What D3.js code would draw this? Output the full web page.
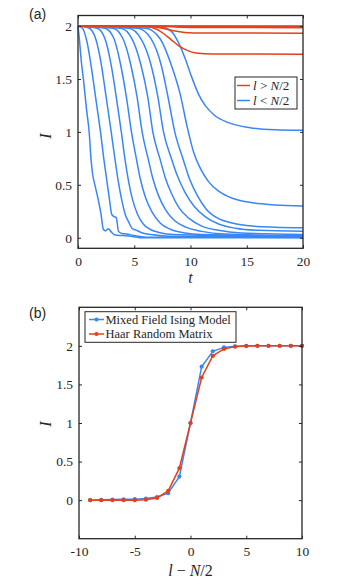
<!DOCTYPE html>
<html lang="en">
<head>
<meta charset="UTF-8">
<title>Mutual information</title>
<script src="https://d3js.org/d3.v7.min.js"></script>
<style>
  body { margin: 0; background: #fff; }
  svg text { fill: #262626; }
</style>
</head>
<body>
<div id="chart"></div>
<script>
// ---- panel (a): I(t) for each cut ----
const tTicks = [0, 5, 10, 15, 20];
const iTicks = [0, 0.5, 1, 1.5, 2];

// l < N/2 (blue)
const blue0 = [[0,2],[0.1,1.9],[0.3,1.66],[0.5,1.48],[0.75,1.22],[1.0,0.99],[1.16,0.74],[1.3,0.6],[1.5,0.5],[1.8,0.36],[2.05,0.22],[2.25,0.08],[2.45,0.065],[2.7,0.085],[2.95,0.055],[3.3,0.025],[4.0,0.02],[5.0,0.01],[5.5,0.0],[20,0.0]];
const blue1 = [[0,2],[0.4,1.98],[0.8,1.85],[1.2,1.6],[1.6,1.3],[2.0,1.0],[2.3,0.74],[2.55,0.55],[2.8,0.36],[3.0,0.22],[3.2,0.2],[3.4,0.19],[3.6,0.06],[3.9,0.04],[4.3,0.035],[5,0.02],[6,0.005],[20,0.003]];
const blue2 = [[0,2],[1.0,1.98],[1.6,1.87],[2.1,1.62],[2.5,1.33],[2.95,1.0],[3.29,0.74],[3.6,0.52],[3.9,0.35],[4.2,0.22],[4.5,0.15],[4.8,0.09],[5.2,0.07],[5.6,0.05],[6.5,0.03],[8,0.015],[20,0.005]];
const blue3 = [[0,2],[1.7,1.98],[2.4,1.88],[2.95,1.63],[3.4,1.33],[3.85,1.0],[4.18,0.74],[4.5,0.53],[4.85,0.36],[5.3,0.22],[5.8,0.13],[6.4,0.08],[7.2,0.05],[8.5,0.03],[20,0.01]];
const blue4 = [[0,2],[2.4,1.98],[3.2,1.88],[3.8,1.63],[4.3,1.33],[4.75,1.0],[5.2,0.74],[5.55,0.55],[6.0,0.38],[6.6,0.24],[7.3,0.14],[8.2,0.08],[9.5,0.045],[11,0.03],[20,0.015]];
const blue5 = [[0,2],[3.1,1.98],[4.0,1.88],[4.7,1.63],[5.25,1.33],[5.7,1.0],[6.25,0.74],[6.65,0.56],[7.15,0.4],[7.8,0.26],[8.6,0.16],[9.6,0.1],[11,0.06],[13,0.035],[20,0.02]];
const blue6 = [[0,2],[3.8,1.98],[4.8,1.88],[5.6,1.63],[6.2,1.33],[6.65,1.0],[7.3,0.74],[7.75,0.57],[8.3,0.42],[9.0,0.28],[9.9,0.18],[11,0.11],[12.5,0.07],[14.5,0.045],[20,0.03]];
const blue7 = [[0,2],[4.5,1.98],[5.6,1.88],[6.5,1.63],[7.1,1.33],[7.6,1.0],[8.33,0.74],[8.85,0.58],[9.5,0.43],[10.3,0.3],[11.3,0.2],[12.5,0.13],[14,0.09],[16,0.07],[20,0.06]];
const blue8 = [[0,2],[5.3,1.98],[6.5,1.88],[7.4,1.63],[8.0,1.33],[8.6,1.0],[9.35,0.74],[9.9,0.56],[10.6,0.4],[11.4,0.27],[12.5,0.18],[13.7,0.14],[15.5,0.11],[17.5,0.1],[20,0.095]];
const blue9 = [[0,2],[6.0,1.98],[7.3,1.88],[8.3,1.63],[9.1,1.35],[9.7,1.05],[10.3,0.8],[10.9,0.65],[11.6,0.53],[12.5,0.44],[13.8,0.37],[15.5,0.33],[17.5,0.31],[20,0.30]];
const blue10 = [[0,2],[7.5,1.99],[8.3,1.95],[8.9,1.85],[9.5,1.7],[10.1,1.52],[10.7,1.36],[11.3,1.25],[12.1,1.16],[13.3,1.09],[15.3,1.04],[17.5,1.02],[20,1.015]];

// l > N/2 (red)
const red0 = [[0,2],[6.0,1.995],[7.0,1.97],[7.6,1.93],[8.3,1.87],[9.0,1.81],[9.7,1.77],[10.5,1.745],[12,1.736],[20,1.734]];
const red1 = [[0,2],[6.5,1.995],[7.5,1.98],[8.5,1.955],[9.5,1.94],[11,1.934],[20,1.933]];
const red2 = [[0,2],[7.5,1.998],[9,1.99],[11,1.986],[20,1.985]];
const red3 = [[0,2],[9,1.998],[20,1.995]];
const red4 = [[0,2],[20,2]];

const blueCurves = [blue0, blue1, blue2, blue3, blue4, blue5, blue6, blue7, blue8, blue9, blue10];
const redCurves = [red4, red3, red2, red1, red0];

// ---- panel (b): saturated I versus l - N/2 ----
const lShift = [-9,-8,-7,-6,-5,-4,-3,-2,-1,0,1,2,3,4,5,6,7,8,9,10];
const mfim   = [0.0,0.005,0.008,0.01,0.013,0.02,0.04,0.09,0.305,1.0,1.73,1.93,1.98,1.995,2.0,2.0,2.0,2.0,2.0,2.0];
const haar   = [0.0,0.0,0.0,0.0,0.0,0.005,0.028,0.12,0.415,1.0,1.59,1.87,1.96,1.99,1.997,2.0,2.0,2.0,2.0,2.0];
const lTicks = [-10, -5, 0, 5, 10];
const bTicks = [0, 0.5, 1, 1.5, 2];

const BLUE = "#3787f7", RED = "#e5401c", AX = "#262626";
const serif = "'Liberation Serif', 'DejaVu Serif', serif";

const svg = d3.select("#chart").append("svg")
    .attr("width", 342).attr("height", 584);

// draws the boxed MATLAB-style axes and returns nothing
function drawFrame(g, x, y, xt, yt) {
  const [x0, x1] = x.range(), [y1, y0] = y.range();
  const fmt = d => String(d);

  g.append("g").attr("transform", `translate(0,${y1})`)
    .call(d3.axisBottom(x).tickValues(xt).tickSize(-3).tickPadding(8).tickFormat(fmt));
  g.append("g").attr("transform", `translate(0,${y0})`)
    .call(d3.axisTop(x).tickValues(xt).tickSize(-3).tickFormat(""));
  g.append("g").attr("transform", `translate(${x0},0)`)
    .call(d3.axisLeft(y).tickValues(yt).tickSize(-3).tickPadding(6).tickFormat(fmt));
  g.append("g").attr("transform", `translate(${x1},0)`)
    .call(d3.axisRight(y).tickValues(yt).tickSize(-3).tickFormat(""));

  g.selectAll(".domain").remove();
  g.selectAll(".tick line").attr("stroke", AX).attr("stroke-width", 1);
  g.selectAll(".tick text").attr("font-family", serif).attr("font-size", 13.5).attr("fill", AX);

  g.append("rect")
    .attr("x", x0).attr("y", y0).attr("width", x1 - x0).attr("height", y1 - y0)
    .attr("fill", "none").attr("stroke", AX).attr("stroke-width", 1.3);
}

// ---------------- (a) ----------------
const xa = d3.scaleLinear().domain([0, 20]).range([78, 303]);
const ya = d3.scaleLinear().domain([-0.1, 2.1]).range([248.3, 15.5]);
const ga = svg.append("g");

const lineA = d3.line()
    .x(d => xa(d[0])).y(d => ya(d[1]))
    .curve(d3.curveMonotoneX);

ga.append("g").selectAll("path")
  .data(blueCurves)
  .join("path")
    .attr("fill", "none")
    .attr("stroke", BLUE)
    .attr("stroke-width", 1.5)
    .attr("d", lineA);

ga.append("g").selectAll("path")
  .data(redCurves)
  .join("path")
    .attr("fill", "none")
    .attr("stroke", RED)
    .attr("stroke-width", 1.5)
    .attr("d", lineA);

drawFrame(ga, xa, ya, tTicks, iTicks);

// legend (a)
const la = ga.append("g");
la.append("rect").attr("x", 235).attr("y", 77).attr("width", 62).attr("height", 32)
  .attr("fill", "#fff").attr("stroke", AX).attr("stroke-width", 1);
[[RED, ">", 85.5], [BLUE, "<", 100.5]].forEach(([c, op, yy]) => {
  la.append("line").attr("x1", 237).attr("x2", 250).attr("y1", yy).attr("y2", yy)
    .attr("stroke", c).attr("stroke-width", 1.5);
  const t = la.append("text").attr("x", 253).attr("y", yy + 4.5)
    .attr("font-family", serif).attr("font-size", 13);
  t.append("tspan").attr("font-style", "italic").text("l");
  t.append("tspan").text(` ${op} `);
  t.append("tspan").attr("font-style", "italic").text("N");
  t.append("tspan").text("/2");
});

ga.append("text").attr("x", 190.5).attr("y", 283)
  .attr("text-anchor", "middle").attr("font-family", serif)
  .attr("font-style", "italic").attr("font-size", 16).text("t");
ga.append("text").attr("transform", "translate(51,136) rotate(-90)")
  .attr("text-anchor", "middle").attr("font-family", serif)
  .attr("font-style", "italic").attr("font-size", 16).text("I");
ga.append("text").attr("x", 29).attr("y", 19)
  .attr("font-family", "'Liberation Sans', Arial, sans-serif").attr("font-size", 14).text("(a)");

// ---------------- (b) ----------------
const xb = d3.scaleLinear().domain([-10, 10]).range([79, 302]);
const yb = d3.scaleLinear().domain([-0.5, 2.5]).range([538.7, 307.3]);
const gb = svg.append("g");

const seriesB = [
  {name: "Mixed Field Ising Model", color: BLUE, values: mfim},
  {name: "Haar Random Matrix", color: RED, values: haar}
];

const lineB = d3.line()
    .x((d, i) => xb(lShift[i])).y(d => yb(d));

seriesB.forEach(s => {
  gb.append("path")
    .attr("fill", "none").attr("stroke", s.color).attr("stroke-width", 1.5)
    .attr("d", lineB(s.values));
  gb.append("g").selectAll("circle")
    .data(s.values)
    .join("circle")
      .attr("cx", (d, i) => xb(lShift[i]))
      .attr("cy", d => yb(d))
      .attr("r", 2.1)
      .attr("fill", s.color);
});

drawFrame(gb, xb, yb, lTicks, bTicks);

// legend (b)
const lb = gb.append("g");
lb.append("rect").attr("x", 85).attr("y", 311.7).attr("width", 151).attr("height", 30.6)
  .attr("fill", "#fff").attr("stroke", AX).attr("stroke-width", 1);
seriesB.forEach((s, i) => {
  const yy = 319.5 + i * 14.5;
  lb.append("line").attr("x1", 89).attr("x2", 104).attr("y1", yy).attr("y2", yy)
    .attr("stroke", s.color).attr("stroke-width", 1.5);
  lb.append("circle").attr("cx", 96.5).attr("cy", yy).attr("r", 2.1).attr("fill", s.color);
  lb.append("text").attr("x", 105.5).attr("y", yy + 4.3)
    .attr("font-family", serif).attr("font-size", 12.5).text(s.name);
});

const xl = gb.append("text").attr("x", 190.5).attr("y", 576)
  .attr("text-anchor", "middle").attr("font-family", serif).attr("font-size", 16);
xl.append("tspan").attr("font-style", "italic").text("l");
xl.append("tspan").text(" \u2212 ");
xl.append("tspan").attr("font-style", "italic").text("N");
xl.append("tspan").text("/2");

gb.append("text").attr("transform", "translate(51,424) rotate(-90)")
  .attr("text-anchor", "middle").attr("font-family", serif)
  .attr("font-style", "italic").attr("font-size", 16).text("I");
gb.append("text").attr("x", 29).attr("y", 318)
  .attr("font-family", "'Liberation Sans', Arial, sans-serif").attr("font-size", 14).text("(b)");
</script>
</body>
</html>
